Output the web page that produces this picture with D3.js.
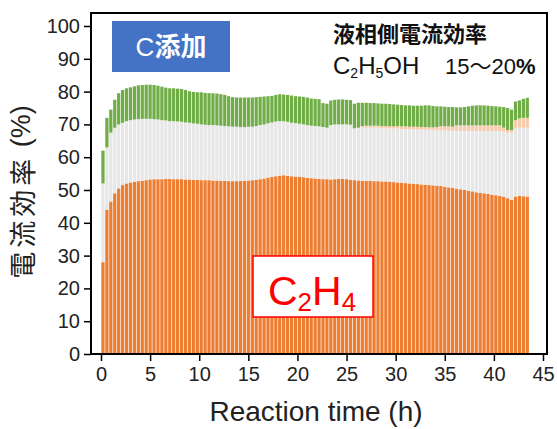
<!DOCTYPE html>
<html>
<head>
<meta charset="utf-8">
<script src="https://cdn.jsdelivr.net/npm/d3@7"></script>
<style>
body { margin: 0; background: #fff; }
svg { display: block; font-family: "Liberation Sans", Arial, sans-serif; }
</style>
</head>
<body>
<svg id="chart" width="557" height="429"></svg>
<script>
// reaction time (h) of each bar
const TIME = [0.2,0.6,1.0,1.4,1.8,2.2,2.6,3.0,3.4,3.8,
  4.2,4.6,5.0,5.4,5.8,6.2,6.6,7.0,7.4,7.8,
  8.2,8.6,9.0,9.4,9.8,10.2,10.6,11.0,11.4,11.8,
  12.2,12.6,13.0,13.4,13.8,14.2,14.6,15.0,15.4,15.8,
  16.2,16.6,17.0,17.4,17.8,18.2,18.6,19.0,19.4,19.8,
  20.2,20.6,21.0,21.4,21.8,22.2,22.6,23.0,23.4,23.8,
  24.2,24.6,25.0,25.4,25.8,26.2,26.6,27.0,27.4,27.8,
  28.2,28.6,29.0,29.4,29.8,30.2,30.6,31.0,31.4,31.8,
  32.2,32.6,33.0,33.4,33.8,34.2,34.6,35.0,35.4,35.8,
  36.2,36.6,37.0,37.4,37.8,38.2,38.6,39.0,39.4,39.8,
  40.2,40.6,41.0,41.4,41.8,42.2,42.6,43.0,43.4]

// C2H4 faradaic efficiency (orange, bottom band)
const C2H4 = [28,44,46.5,49,50.5,51.5,52,52.3,52.5,52.7,
  52.8,53,53.2,53.3,53.3,53.3,53.4,53.4,53.3,53.3,
  53.3,53.2,53.2,53.1,53.1,53,53,53,52.9,52.9,
  52.8,52.8,52.7,52.7,52.7,52.8,52.8,52.9,53,53.1,
  53.3,53.5,53.8,54,54.2,54.4,54.5,54.3,54.2,54.1,
  54,53.9,53.7,53.6,53.5,53.4,53.3,53.3,53.2,53.3,
  53.4,53.4,53.3,53.1,53,52.9,52.8,52.8,52.8,52.7,
  52.7,52.6,52.6,52.5,52.4,52.3,52.2,52.1,52,51.9,
  51.8,51.7,51.6,51.5,51.4,51.3,51.2,51,50.8,50.6,
  50.4,50.2,50,49.8,49.6,49.3,49.1,49,48.8,48.6,
  48.4,48.2,48,47.5,47,48,48.2,48.1,48]

// top of the light grey band, read as cumulative value
const GRAY_TOP = [52,63,67.5,69,70,70.5,71,71.3,71.5,71.6,
  71.7,71.7,71.7,71.6,71.5,71.3,71.2,71,71,70.9,
  70.8,70.6,70.5,70.3,70.2,70,69.9,69.8,69.8,69.7,
  69.6,69.5,69.4,69.3,69.3,69.2,69.2,69.3,69.3,69.5,
  69.8,70,70.3,70.6,70.9,71,71,70.8,70.5,70.4,
  70.2,70,69.8,69.6,69.5,69.4,69.2,69,69.8,70,
  70,70,70,69.9,68.8,69,69,69,69,69,
  69,68.9,68.9,68.8,68.8,68.7,68.6,68.6,68.5,68.5,
  68.5,68.4,68.4,68.3,68.3,68.2,68.2,68.1,68.1,68,
  68,68,68,68,68,68,68,68,68,68,
  68,68,67.8,67.5,67.5,68.8,69,69,69]

// thin peach band (its own height)
const PEACH = [0,0,0,0,0,0,0,0,0,0,
  0,0,0,0,0,0,0,0,0,0,
  0,0,0,0,0,0,0,0,0,0,
  0,0,0,0,0,0,0,0,0,0,
  0,0,0,0,0,0,0,0,0,0,
  0,0,0,0,0,0,0,0,0,0,
  0,0,0,0,0,0,0.5,0.6,0.6,0.6,
  0.6,0.6,0.6,0.6,0.6,0.8,0.8,0.8,0.8,0.8,
  0.8,0.8,0.8,0.8,0.8,1,1.3,1.3,1.3,1.3,
  1.7,1.7,1.7,1.7,1.7,1.7,1.7,1.7,1.7,1.7,
  1.7,1.7,1.2,0.8,0.8,2.5,2.8,3,3]

// top of the green band, cumulative
const GREEN_TOP = [62,72,74.5,77.5,79.5,80.5,81,81.3,81.6,81.9,
  82,82.1,82.1,82,81.8,81.5,81.2,81,81,80.9,
  80.8,80.5,80.1,79.9,79.8,79.8,79.6,79.5,79.5,79.4,
  79.2,79,78.6,78.3,78.2,78.2,78.2,78.2,78.2,78.3,
  78.4,78.5,78.6,78.7,79,79.2,79.1,79,78.8,78.6,
  78.5,78.4,78.2,77.9,77.8,77.7,76.5,76.3,77.3,77.5,
  77.6,77.6,77.5,77.4,76.3,76.6,76.6,76.6,76.5,76.5,
  76.4,76.3,76.3,76.2,76.1,76,75.9,75.8,75.8,75.7,
  75.7,75.7,75.8,75.8,75.6,75.5,75.5,75.4,75.3,75.3,
  75.2,75.2,75.3,75.5,75.7,75.8,75.8,75.8,75.7,75.6,
  75.5,75.4,75.3,75,74.5,77,77.3,77.8,78.1]

const X_TICKS = [0,5,10,15,20,25,30,35,40,45]
const Y_TICKS = [0,10,20,30,40,50,60,70,80,90,100]
const KEYS    = ['c2h4','ethanol','peach','other']
const COLORS  = ['#ED7D31','#E7E7E7','#F8CBAD','#70AD47']

const rows = TIME.map((t, i) => ({
  t: t,
  c2h4: C2H4[i],
  ethanol: GRAY_TOP[i] - C2H4[i],
  peach: PEACH[i],
  other: GREEN_TOP[i] - GRAY_TOP[i] - PEACH[i]
}));

const svg = d3.select('#chart');
const x = d3.scaleLinear().domain([0, 45]).range([101, 543]);
const y = d3.scaleLinear().domain([0, 100]).range([354, 26]);
const barW = x(0.33) - x(0);

const series = d3.stack().keys(KEYS)(rows);

svg.append('g').selectAll('g')
  .data(series)
  .join('g')
  .attr('fill', (d, i) => COLORS[i])
  .selectAll('rect')
  .data(d => d)
  .join('rect')
  .attr('x', d => x(d.data.t) - barW / 2)
  .attr('width', barW)
  .attr('y', d => y(d[1]))
  .attr('height', d => Math.max(0, y(d[0]) - y(d[1])));

// axes: major + minor ticks, frame drawn separately
const yAxis = svg.append('g').attr('transform', 'translate(91,0)');
yAxis.call(d3.axisLeft(y).tickValues(d3.range(0, 101, 2)).tickSize(4).tickFormat(''));
yAxis.call(d3.axisLeft(y).tickValues(Y_TICKS).tickSize(7).tickPadding(4));

const xAxis = svg.append('g').attr('transform', 'translate(0,354)');
xAxis.call(d3.axisBottom(x).tickValues(d3.range(0, 46, 1)).tickSize(4).tickFormat(''));
xAxis.call(d3.axisBottom(x).tickValues(X_TICKS).tickSize(7).tickPadding(6));

svg.selectAll('.domain').remove();
svg.selectAll('.tick line').attr('stroke', '#000').attr('stroke-width', 1.5);
svg.selectAll('.tick text').attr('font-size', 20).attr('fill', '#222')
  .attr('font-family', '"Liberation Sans", Arial, sans-serif');

svg.append('rect')
  .attr('x', 91).attr('y', 13).attr('width', 456).attr('height', 341)
  .attr('fill', 'none').attr('stroke', '#000').attr('stroke-width', 2);

// axis titles
svg.append('text')
  .attr('x', 316).attr('y', 421)
  .attr('text-anchor', 'middle')
  .attr('font-size', 28).attr('fill', '#222')
  .text('Reaction time (h)');

const yTitle = svg.append('text')
  .attr('transform', 'translate(21,192) rotate(-90)')
  .attr('text-anchor', 'middle')
  .attr('dominant-baseline', 'central')
  .attr('font-size', 27).attr('fill', '#222');
yTitle.append('tspan')
  .attr('font-family', '"Noto Sans CJK JP", sans-serif')
  .attr('letter-spacing', 4)
  .text('電流効率');
yTitle.append('tspan').text(' (%)');

// "C添加" badge
svg.append('rect')
  .attr('x', 112).attr('y', 21).attr('width', 118).attr('height', 51)
  .attr('fill', '#4472C4');
const badge = svg.append('text')
  .attr('x', 171).attr('y', 56)
  .attr('text-anchor', 'middle')
  .attr('fill', '#fff').attr('font-size', 26);
badge.append('tspan').attr('font-family', '"Liberation Sans", Arial, sans-serif').text('C');
badge.append('tspan').attr('font-family', '"Noto Sans CJK JP", sans-serif')
  .attr('font-weight', 'bold').text('添加');

// liquid-side note
svg.append('text')
  .attr('x', 333).attr('y', 42)
  .attr('font-family', '"Noto Sans CJK JP", sans-serif')
  .attr('font-weight', 'bold').attr('font-size', 22).attr('fill', '#111')
  .text('液相側電流効率');

const formula = svg.append('text')
  .attr('x', 333).attr('y', 74)
  .attr('font-size', 24).attr('fill', '#111');
formula.append('tspan').text('C');
formula.append('tspan').attr('font-size', 14).attr('dy', 4).text('2');
formula.append('tspan').attr('dy', -4).text('H');
formula.append('tspan').attr('font-size', 14).attr('dy', 4).text('5');
formula.append('tspan').attr('dy', -4).text('OH');

const range = svg.append('text')
  .attr('x', 445).attr('y', 74)
  .attr('font-size', 22).attr('fill', '#111');
range.append('tspan').text('15');
range.append('tspan').attr('font-family', '"Noto Sans CJK JP", sans-serif').text('〜');
range.append('tspan').text('20');
range.append('tspan').attr('font-weight', 'bold').text('%');

// C2H4 label box
svg.append('rect')
  .attr('x', 253).attr('y', 256).attr('width', 120).attr('height', 61)
  .attr('fill', '#fff').attr('stroke', '#FF0000').attr('stroke-width', 1.5);
const c2h4Label = svg.append('text')
  .attr('x', 268).attr('y', 305)
  .attr('font-size', 41).attr('fill', '#FF0000');
c2h4Label.append('tspan').text('C');
c2h4Label.append('tspan').attr('font-size', 26).attr('dy', 6).text('2');
c2h4Label.append('tspan').attr('dy', -6).text('H');
c2h4Label.append('tspan').attr('font-size', 26).attr('dy', 6).text('4');
</script>
</body>
</html>
